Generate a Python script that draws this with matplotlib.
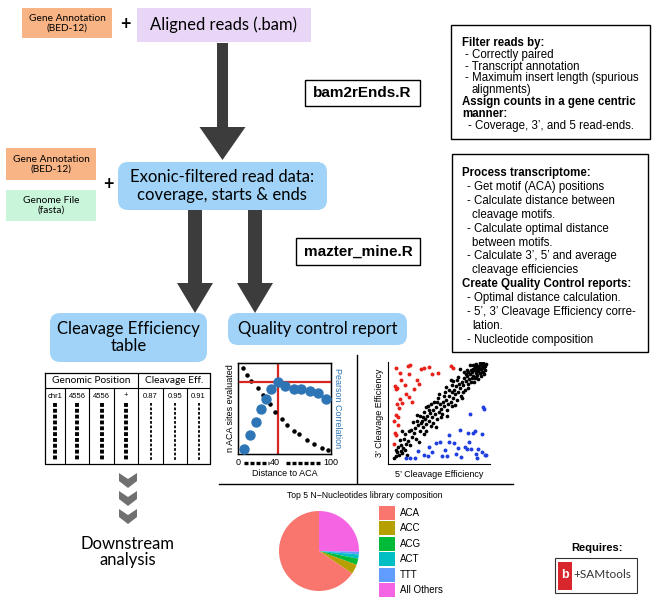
import matplotlib
matplotlib.use('Agg')
import matplotlib.pyplot as plt
from matplotlib.patches import FancyBboxPatch, Rectangle, Polygon

SANS = ['Lato', 'DejaVu Sans']
ARIAL = ['Liberation Sans', 'DejaVu Sans']

# ---- data ----
# optimal distance QC plot
dist_sites = [5, 10, 14, 21, 27, 34, 40, 47, 53, 60, 66, 74, 82, 90, 97]
n_sites = [0.94, 0.87, 0.80, 0.72, 0.64, 0.54, 0.45, 0.37, 0.30, 0.24, 0.20, 0.14, 0.09, 0.05, 0.02]
dist_corr = [6, 13, 19, 25, 30, 36, 43, 51, 60, 68, 77, 86, 95]
pearson = [0.04, 0.19, 0.34, 0.49, 0.60, 0.71, 0.79, 0.74, 0.71, 0.71, 0.69, 0.66, 0.60]
best_dist = 43
best_corr = 0.79

# 5' vs 3' cleavage efficiency
black_x = [0.03, 0.05, 0.06, 0.08, 0.10, 0.12, 0.13, 0.10, 0.15, 0.07, 0.16, 0.18, 0.14, 0.20, 0.22, 0.12, 0.24, 0.19, 0.26, 0.25,
           0.28, 0.30, 0.32, 0.33, 0.35, 0.36, 0.38, 0.40, 0.41, 0.43, 0.44, 0.46, 0.47, 0.48, 0.50, 0.51, 0.52, 0.54, 0.55, 0.30,
           0.34, 0.39, 0.45, 0.49, 0.37, 0.42, 0.53, 0.58, 0.57, 0.59, 0.60, 0.62, 0.63, 0.65, 0.27, 0.31,
           0.66, 0.67, 0.68, 0.70, 0.71, 0.72, 0.73, 0.74, 0.75, 0.76, 0.77, 0.78, 0.79, 0.80, 0.81, 0.82, 0.83, 0.84, 0.85, 0.86,
           0.87, 0.88, 0.89, 0.90, 0.91, 0.92, 0.93, 0.94, 0.95, 0.96, 0.97, 0.98, 0.90, 0.87, 0.85, 0.83, 0.88, 0.93, 0.96, 0.91,
           0.94, 0.97, 0.86, 0.80, 0.78, 0.76, 0.64, 0.62, 0.69, 0.72, 0.82, 0.86, 0.99, 0.92, 0.89, 0.95, 0.84, 0.80, 0.75, 0.70,
           0.60, 0.56, 0.67, 0.50, 0.52, 0.44,
           0.09, 0.17, 0.21, 0.29, 0.23, 0.34, 0.40, 0.47, 0.36, 0.58, 0.63, 0.42, 0.27, 0.55, 0.69, 0.74, 0.05, 0.15, 0.33, 0.48,
           0.57, 0.88, 0.91, 0.95, 0.98, 0.85, 0.79, 0.65]
black_y = [0.03, 0.05, 0.09, 0.06, 0.10, 0.08, 0.13, 0.16, 0.11, 0.14, 0.17, 0.20, 0.22, 0.16, 0.24, 0.30, 0.28, 0.30, 0.22, 0.33,
           0.36, 0.30, 0.40, 0.34, 0.42, 0.37, 0.45, 0.40, 0.48, 0.44, 0.52, 0.47, 0.55, 0.42, 0.50, 0.58, 0.53, 0.60, 0.56, 0.45,
           0.50, 0.56, 0.60, 0.64, 0.30, 0.35, 0.47, 0.52, 0.62, 0.58, 0.66, 0.60, 0.70, 0.64, 0.40, 0.38,
           0.72, 0.68, 0.76, 0.70, 0.78, 0.74, 0.66, 0.80, 0.77, 0.84, 0.72, 0.81, 0.86, 0.78, 0.83, 0.88, 0.80, 0.90, 0.86, 0.92,
           0.84, 0.89, 0.94, 0.87, 0.91, 0.96, 0.89, 0.93, 0.97, 0.90, 0.95, 0.92, 0.96, 0.95, 0.93, 0.92, 0.98, 0.99, 0.99, 0.83,
           0.86, 0.88, 0.80, 0.90, 0.88, 0.90, 0.77, 0.82, 0.62, 0.93, 0.97, 0.97, 0.98, 0.93, 0.91, 0.94, 0.84, 0.74, 0.70, 0.85,
           0.72, 0.70, 0.57, 0.68, 0.44, 0.38,
           0.21, 0.06, 0.31, 0.19, 0.39, 0.27, 0.52, 0.34, 0.55, 0.45, 0.56, 0.58, 0.46, 0.66, 0.82, 0.64, 0.11, 0.27, 0.44, 0.60,
           0.75, 0.85, 0.93, 0.90, 0.96, 0.97, 0.92, 0.81]
red_x = [0.055, 0.094, 0.176, 0.186, 0.267, 0.339, 0.397, 0.485, 0.625, 0.648, 0.039, 0.049, 0.065, 0.147, 0.244, 0.098, 0.120,
         0.190, 0.055, 0.078, 0.072, 0.039, 0.049, 0.033, 0.088, 0.20, 0.29, 0.43, 0.06, 0.16, 0.03, 0.11, 0.22, 0.31]
red_y = [0.940, 0.886, 0.958, 0.877, 0.820, 0.935, 0.951, 0.886, 0.958, 0.935, 0.756, 0.724, 0.740, 0.763, 0.730, 0.627, 0.584,
         0.643, 0.464, 0.448, 0.367, 0.286, 0.260, 0.172, 0.539, 0.97, 0.78, 0.88, 0.58, 0.68, 0.40, 0.82, 0.60, 0.93]
blue_x = [0.961, 0.967, 0.827, 0.153, 0.202, 0.251, 0.283, 0.339, 0.381, 0.397, 0.472, 0.511, 0.528, 0.560, 0.583, 0.603, 0.609,
          0.658, 0.674, 0.700, 0.723, 0.733, 0.765, 0.788, 0.805, 0.814, 0.831, 0.853, 0.870, 0.886, 0.896, 0.909, 0.951, 0.951,
          0.977, 0.993, 0.430]
blue_y = [0.545, 0.529, 0.471, 0.026, 0.026, 0.032, 0.097, 0.058, 0.052, 0.140, 0.182, 0.195, 0.052, 0.107, 0.052, 0.260, 0.195,
          0.182, 0.075, 0.130, 0.318, 0.042, 0.146, 0.123, 0.286, 0.195, 0.123, 0.279, 0.299, 0.075, 0.026, 0.123, 0.269, 0.091,
          0.058, 0.065, 0.091]

# nucleotide composition
pie_labels = ['ACA', 'ACC', 'ACG', 'ACT', 'TTT', 'All Others']
pie_share = [65.5, 3.9, 2.5, 1.7, 1.1, 25.3]
pie_colors = ['#F8766D', '#B79F00', '#00BA38', '#00BFC4', '#619CFF', '#F564E3']

# example output table
table_head = ['Genomic Position', 'Cleavage Eff.']
table_row = ['chr1', '4556', '4556', '+', '0.87', '0.95', '0.91']

box1_lines = [('Filter reads by:', True, 0), ('- Correctly paired', False, 3), ('- Transcript annotation', False, 3),
              ('- Maximum insert length (spurious', False, 3), ('alignments)', False, 10),
              ('Assign counts in a gene centric', True, 0), ('manner:', True, 0),
              ('- Coverage, 3\u2019, and 5 read-ends.', False, 6)]
box2_lines = [('Process transcriptome:', True, 0), ('- Get motif (ACA) positions', False, 5),
              ('- Calculate distance between', False, 5), ('cleavage motifs.', False, 10),
              ('- Calculate optimal distance', False, 5), ('between motifs.', False, 10),
              ('- Calculate 3\u2019, 5\u2019 and average', False, 5), ('cleavage efficiencies', False, 10),
              ('Create Quality Control reports:', True, 0), ('- Optimal distance calculation.', False, 5),
              ('- 5\u2019, 3\u2019 Cleavage Efficiency corre-', False, 5), ('lation.', False, 10),
              ('- Nucleotide composition', False, 5)]

W, H = 658, 608
fig = plt.figure(figsize=(6.58, 6.08), dpi=100)
ax = fig.add_axes([0, 0, 1, 1])
ax.set_xlim(0, W)
ax.set_ylim(H, 0)
ax.axis('off')


def px_axes(x0, y0, x1, y1):
    return fig.add_axes([x0 / W, 1 - y1 / H, (x1 - x0) / W, (y1 - y0) / H])


def rect(x0, y0, x1, y1, fc, ec='none', lw=1.0, rounded=0):
    if rounded:
        p = FancyBboxPatch((x0, y0), x1 - x0, y1 - y0, boxstyle='round,pad=0,rounding_size=%d' % rounded,
                           fc=fc, ec=ec, lw=lw)
    else:
        p = Rectangle((x0, y0), x1 - x0, y1 - y0, fc=fc, ec=ec, lw=lw)
    ax.add_patch(p)


def down_arrow(xc, y0, y1, shaft, head_w, head_h):
    pts = [(xc - shaft / 2, y0), (xc + shaft / 2, y0), (xc + shaft / 2, y1 - head_h), (xc + head_w / 2, y1 - head_h),
           (xc, y1), (xc - head_w / 2, y1 - head_h), (xc - shaft / 2, y1 - head_h)]
    ax.add_patch(Polygon(pts, closed=True, fc='#3c3c3c', ec='none'))


ORANGE = '#F8B484'
GREEN = '#C9F6DB'
LAVENDER = '#E9D6F7'
BLUE = '#A0D3F7'

# top inputs
rect(22, 8, 112, 38, ORANGE)
ax.text(67, 23, 'Gene Annotation\n(BED-12)', ha='center', va='center', fontsize=7.3, family=SANS, linespacing=1.1)
ax.text(125, 24, '+', ha='center', va='center', fontsize=13, fontweight='bold', family=SANS)
rect(137, 8, 311, 42, LAVENDER)
ax.text(224, 25, 'Aligned reads (.bam)', ha='center', va='center', fontsize=12, family=SANS)

down_arrow(222.5, 43, 160, 11, 46, 33)

rect(305, 80, 420, 106, 'white', ec='black', lw=1.0)
ax.text(362.5, 93, 'bam2rEnds.R', ha='center', va='center', fontsize=11, fontweight='bold', family=ARIAL)

# side description boxes
rect(451, 25, 650, 139, 'white', ec='black', lw=1.0)
for i, (txt, bold, ind) in enumerate(box1_lines):
    ax.text(462 + ind, 43 + i * 11.8, txt, ha='left', va='center', fontsize=8.3, family=ARIAL,
            fontweight='bold' if bold else 'normal')
rect(452, 154, 648, 352, 'white', ec='black', lw=1.0)
for i, (txt, bold, ind) in enumerate(box2_lines):
    ax.text(462 + ind, 173 + i * 13.9, txt, ha='left', va='center', fontsize=8.3, family=ARIAL,
            fontweight='bold' if bold else 'normal')

# second level inputs
rect(6, 148, 96, 180, ORANGE)
ax.text(51, 164, 'Gene Annotation\n(BED-12)', ha='center', va='center', fontsize=7.3, family=SANS, linespacing=1.1)
rect(6, 190, 96, 221, GREEN)
ax.text(51, 205, 'Genome File\n(fasta)', ha='center', va='center', fontsize=7.3, family=SANS, linespacing=1.1)
ax.text(108, 184, '+', ha='center', va='center', fontsize=13, fontweight='bold', family=SANS)
rect(118, 162, 327, 210, BLUE, rounded=10)
ax.text(222, 186, 'Exonic-filtered read data:\ncoverage, starts & ends', ha='center', va='center', fontsize=12,
        family=SANS, linespacing=1.15)

down_arrow(195, 210, 313, 14, 36, 30)
down_arrow(255, 210, 313, 14, 36, 30)

rect(296, 238, 420, 265, 'white', ec='black', lw=1.0)
ax.text(358, 251.5, 'mazter_mine.R', ha='center', va='center', fontsize=11, fontweight='bold', family=ARIAL)

rect(50, 313, 207, 362, BLUE, rounded=10)
ax.text(128.5, 337.5, 'Cleavage Efficiency\ntable', ha='center', va='center', fontsize=12, family=SANS,
        linespacing=1.15)
rect(228, 313, 407, 345, BLUE, rounded=10)
ax.text(317.5, 329, 'Quality control report', ha='center', va='center', fontsize=12, family=SANS)

# output table
col_x = [45, 65, 89, 114, 138, 163, 187, 210]
t_top, t_head, t_bot = 373, 388, 464
ax.plot([col_x[0], col_x[-1], col_x[-1], col_x[0], col_x[0]], [t_top, t_top, t_bot, t_bot, t_top], color='black', lw=0.9)
ax.plot([col_x[0], col_x[-1]], [t_head, t_head], color='black', lw=0.8)
ax.plot([col_x[4], col_x[4]], [t_top, t_bot], color='black', lw=0.8)
for cx in col_x[1:-1]:
    if cx != col_x[4]:
        ax.plot([cx, cx], [t_head, t_bot], color='black', lw=0.8)
ax.text((col_x[0] + col_x[4]) / 2, 380.5, table_head[0], ha='center', va='center', fontsize=7.3, family=SANS)
ax.text((col_x[4] + col_x[-1]) / 2, 380.5, table_head[1], ha='center', va='center', fontsize=7.3, family=SANS)
for i, val in enumerate(table_row):
    xc = (col_x[i] + col_x[i + 1]) / 2
    ax.text(xc, 396, val, ha='center', va='center', fontsize=5.5, family=ARIAL)
    if i < 4:
        ax.plot([xc, xc], [403, 461], color='black', lw=2.8, linestyle=(0, (1, 0.5)), solid_capstyle='butt')
    else:
        ax.plot([xc, xc], [403, 461], color='black', lw=1.3, linestyle=(0, (1.5, 1)))

# chevrons to downstream analysis
for cy in [473, 491, 509]:
    pts = [(119, cy), (128, cy + 6), (137, cy), (137, cy + 8), (128, cy + 15), (119, cy + 8)]
    ax.add_patch(Polygon(pts, closed=True, fc='#707070', ec='none'))
ax.text(128, 552, 'Downstream\nanalysis', ha='center', va='center', fontsize=12, family=SANS, linespacing=1.0)

# separators of QC panel
ax.plot([357, 357], [355, 483], color='black', lw=1.0)
ax.plot([219, 513], [484, 484], color='black', lw=1.0)

# QC plot 1: optimal distance
q1 = px_axes(238, 363, 331, 454)
q1.scatter(dist_sites, n_sites, s=5, color='black', zorder=3)
q2 = q1.twinx()
q2.scatter(dist_corr, pearson, s=42, color='#2E75B6', zorder=3)
q1.axvline(best_dist, color='#D7261E', lw=1.6)
q2.axhline(best_corr, color='#D7261E', lw=1.6)
for a in (q1, q2):
    a.set_xlim(0, 100)
    a.set_ylim(-0.02, 1.0)
    a.set_yticks([])
q1.set_xticks([0, 40, 100])
q1.set_xticklabels(['0', '40', '100'], fontsize=6.5, family=ARIAL)
q1.tick_params(axis='x', length=0, pad=3)
for s in q1.spines.values():
    s.set_linewidth(1.0)
q1.set_ylabel('n ACA sites evaluated', fontsize=6.5, family=ARIAL, labelpad=2)
q2.set_ylabel('Pearson Correlation', fontsize=6.5, family=ARIAL, color='#2E75B6', rotation=-90, labelpad=8)
q1.set_xlabel('Distance to ACA', fontsize=6.5, family=ARIAL, labelpad=1)
ax.plot([244, 269], [463, 463], color='black', lw=2.4, linestyle=(0, (1.2, 0.6)))
ax.plot([286, 320], [463, 463], color='black', lw=2.4, linestyle=(0, (1.2, 0.6)))

# QC plot 2: 5' vs 3' cleavage efficiency
sc = px_axes(388, 362, 490, 464)
sc.scatter(black_x, black_y, s=7, color='black', lw=0)
sc.scatter(red_x, red_y, s=8, color='#E8211A', lw=0)
sc.scatter(blue_x, blue_y, s=8, color='#1F3FE0', lw=0)
sc.set_xlim(-0.03, 1.03)
sc.set_ylim(-0.03, 1.0)
sc.set_xticks([])
sc.set_yticks([])
sc.spines['top'].set_visible(False)
sc.spines['right'].set_visible(False)
sc.set_xlabel('5\u2019 Cleavage Efficiency', fontsize=6.5, family=ARIAL, labelpad=4)
sc.set_ylabel('3\u2019 Cleavage Efficiency', fontsize=6.5, family=ARIAL, labelpad=3)

# QC plot 3: nucleotide composition pie
ax.text(365, 495, 'Top 5 N\u2212Nucleotides library composition', ha='center', va='center', fontsize=6.2, family=ARIAL)
pa = px_axes(279, 511, 359, 591)
pa.pie(pie_share[::-1], colors=pie_colors[::-1], startangle=90, counterclock=False, radius=1)
pa.set_xlim(-1, 1)
pa.set_ylim(-1, 1)
pa.set_aspect('equal')
for i, (lab, col) in enumerate(zip(pie_labels, pie_colors)):
    y0 = 506 + i * 15.4
    rect(379, y0, 395, y0 + 14, col)
    ax.text(400, y0 + 7, lab, ha='left', va='center', fontsize=7, family=ARIAL)

# requirements
ax.text(597, 548, 'Requires:', ha='center', va='center', fontsize=8, fontweight='bold', family=ARIAL)
rect(555, 558, 637, 593, 'white', ec='#333333', lw=0.8)
rect(558, 562, 572, 590, '#D9262C')
ax.text(565, 575, 'b', ha='center', va='center', fontsize=9, fontweight='bold', color='white', family=ARIAL)
ax.text(573, 575, '+SAMtools', ha='left', va='center', fontsize=8.5, color='#333333', family=SANS)

fig.savefig('out.png', dpi=100)
